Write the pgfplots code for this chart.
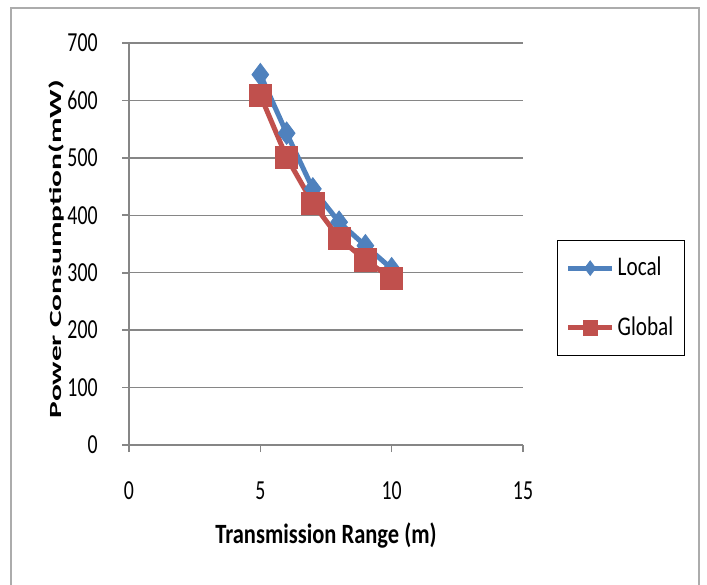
\documentclass[border=0pt]{standalone}
\usepackage{pgfplots}
\pgfplotsset{compat=1.18}
\usepackage{graphicx}
\usepackage{fontspec}
\setmainfont{Carlito}
\definecolor{xlblue}{HTML}{4F81BD}
\definecolor{xlred}{HTML}{C0504D}
\definecolor{xlgrid}{HTML}{868686}
\begin{document}
\begin{tikzpicture}
\useasboundingbox (0,0) rectangle (353.5pt,292pt);
\begin{axis}[
  at={(64.5pt,69.5pt)}, anchor=south west,
  scale only axis, width=197pt, height=201pt,
  xmin=0, xmax=15, ymin=0, ymax=700,
  xtick={0,5,10,15}, ytick={0,100,...,700},
  axis x line*=bottom, axis y line*=left,
  axis line style={xlgrid, line width=0.8pt},
  tick style={xlgrid, line width=0.8pt},
  tick align=outside, major tick length=3.5pt,
  ymajorgrids, grid style={xlgrid, line width=0.7pt},
  /pgf/number format/assume math mode=true,
  xticklabel={\fontsize{9.9}{11}\selectfont\scalebox{1}[1.39]{\pgfmathprintnumber{\tick}}},
  yticklabel={\fontsize{9.9}{11}\selectfont\scalebox{1}[1.39]{\pgfmathprintnumber{\tick}}},
  xticklabel style={anchor=north, inner sep=0pt, yshift=-14.5pt},
  yticklabel style={anchor=east, inner sep=0pt, xshift=-12pt},
  xlabel={\fontsize{11.25}{13}\selectfont\bfseries\scalebox{1}[1.24]{Transmission Range (m)}},
  xlabel style={at={(axis description cs:0.5,-0.2239)}, anchor=center},
  ylabel={\fontsize{8.5}{10}\selectfont\bfseries\scalebox{1.85}[1]{Power Consumption(mW)}},
  ylabel style={at={(axis description cs:-0.1827,0.4876)}, anchor=center},
  legend style={at={(axis description cs:1.2487,0.3657)}, anchor=center,
    draw=black, line width=0.5pt, fill=white,
    inner xsep=4pt, inner ysep=7pt, row sep=16pt,
    font=\fontsize{10.6}{12}\selectfont,
    nodes={inner sep=1.5pt}},
  legend cell align=left,
  legend image code/.code={%
    \draw[mark repeat=2,mark phase=2,#1,every mark/.append style={scale=0.65}]
      plot coordinates {(0pt,0pt) (11pt,0pt) (22pt,0pt)};},
]
\addplot[color=xlblue, line width=2.5pt, mark=diamond*, mark size=5.6pt,
  mark options={solid, fill=xlblue, draw=xlblue, line width=0.4pt}]
  coordinates {(5,645) (6,543) (7,446) (8,388) (9,347) (10,307)};
\addlegendentry{\scalebox{1}[1.27]{Local}}
\addplot[color=xlred, line width=2.5pt, mark=square*, mark size=5.6pt,
  mark options={solid, fill=xlred, draw=xlred, line width=0.4pt}]
  coordinates {(5,609) (6,501) (7,421) (8,360) (9,322) (10,290)};
\addlegendentry{\scalebox{1}[1.27]{Global}}
\end{axis}
\draw[gray!65, line width=1.3pt] (5.5pt,-10pt) rectangle (349.5pt,288pt);
\end{tikzpicture}
\end{document}
